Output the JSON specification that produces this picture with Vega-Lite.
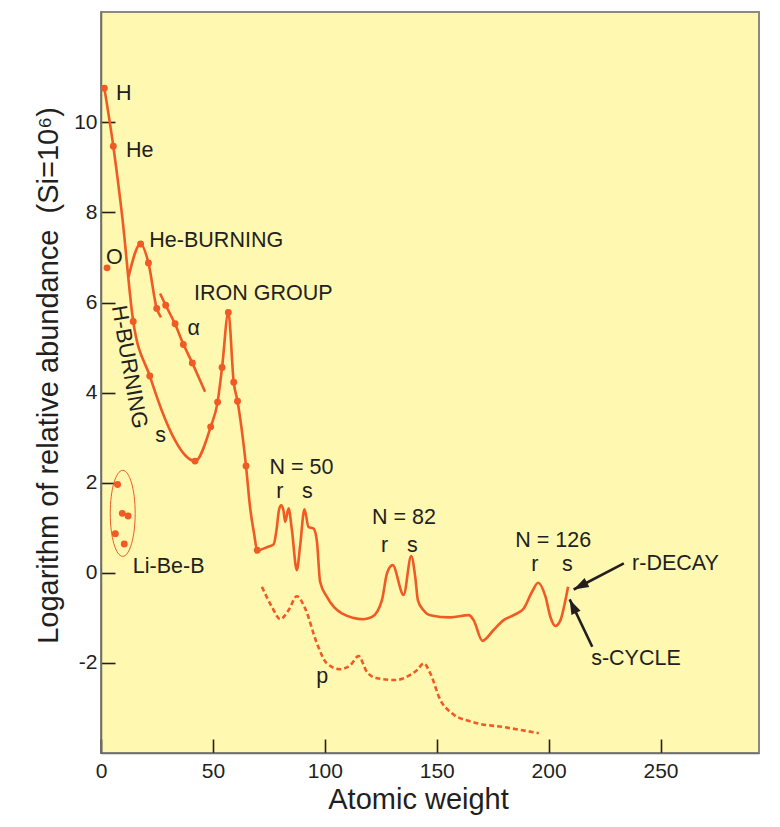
{
  "$schema": "https://vega.github.io/schema/vega-lite/v6.json",
  "width": 658,
  "height": 741,
  "autosize": {"type": "none"},
  "padding": {"left": 101, "top": 12, "right": 21, "bottom": 74},
  "background": "#ffffff",
  "config": {
    "view": {"fill": "#FFF8B0", "stroke": "#8a8a80", "strokeWidth": 2},
    "font": "Liberation Sans",
    "axis": {
      "grid": false,
      "domainColor": "#6e6e6e",
      "domainWidth": 1.5,
      "tickColor": "#231F20",
      "tickWidth": 1.6,
      "tickSize": -14,
      "labelFlush": false,
      "labelFont": "Liberation Sans",
      "labelFontSize": 21,
      "labelColor": "#231F20",
      "labelExpr": "replace(datum.label, '\u2212', '-')",
      "titleFont": "Liberation Sans",
      "titleFontSize": 29,
      "titleFontWeight": "normal",
      "titleColor": "#231F20"
    }
  },
  "datasets": {
    "main": [
      {"x": 1.5, "y": 10.76}, {"x": 5.5, "y": 9.47}, {"x": 9.5, "y": 7.9},
      {"x": 14.4, "y": 5.58}, {"x": 21.8, "y": 4.37}, {"x": 27.1, "y": 3.61}, {"x": 33.1, "y": 2.94},
      {"x": 37.6, "y": 2.61}, {"x": 42.0, "y": 2.48}, {"x": 49.0, "y": 3.24}, {"x": 52.1, "y": 3.79},
      {"x": 54.1, "y": 4.56}, {"x": 56.9, "y": 5.78}, {"x": 59.3, "y": 4.23}, {"x": 61.0, "y": 3.81},
      {"x": 64.8, "y": 2.37}, {"x": 66.6, "y": 1.46}, {"x": 68.4, "y": 0.87}, {"x": 69.8, "y": 0.50},
      {"x": 74.7, "y": 0.58}, {"x": 77.1, "y": 0.63}, {"x": 78.5, "y": 0.98}, {"x": 79.5, "y": 1.39},
      {"x": 80.5, "y": 1.50}, {"x": 81.5, "y": 1.39}, {"x": 82.3, "y": 1.13}, {"x": 83.8, "y": 1.43},
      {"x": 85.3, "y": 0.95}, {"x": 87.5, "y": 0.06}, {"x": 89.0, "y": 0.61}, {"x": 90.9, "y": 1.41},
      {"x": 92.7, "y": 1.02}, {"x": 95.0, "y": 0.98}, {"x": 96.5, "y": 0.69}, {"x": 97.9, "y": -0.20},
      {"x": 100.9, "y": -0.53}, {"x": 107.6, "y": -0.90}, {"x": 117.3, "y": -1.03}, {"x": 121.1, "y": -0.98},
      {"x": 125.5, "y": -0.61}, {"x": 127.8, "y": -0.01}, {"x": 130.3, "y": 0.17}, {"x": 135.2, "y": -0.49},
      {"x": 138.6, "y": 0.37}, {"x": 140.4, "y": -0.09}, {"x": 141.6, "y": -0.61}, {"x": 144.1, "y": -0.83},
      {"x": 147.1, "y": -0.94}, {"x": 156.1, "y": -0.99}, {"x": 164.3, "y": -0.94}, {"x": 166.5, "y": -1.05},
      {"x": 170.4, "y": -1.51}, {"x": 175.4, "y": -1.27}, {"x": 179.9, "y": -1.05}, {"x": 184.4, "y": -0.94},
      {"x": 188.9, "y": -0.79}, {"x": 192.6, "y": -0.42}, {"x": 195.3, "y": -0.22}, {"x": 198.6, "y": -0.53},
      {"x": 200.8, "y": -0.98}, {"x": 203.0, "y": -1.18}, {"x": 205.3, "y": -1.05}, {"x": 207.5, "y": -0.61},
      {"x": 208.7, "y": -0.31}
    ],
    "heburn": [
      {"x": 12.3, "y": 6.57}, {"x": 17.7, "y": 7.30}, {"x": 21.2, "y": 6.88}, {"x": 24.9, "y": 5.87}, {"x": 26.8, "y": 5.67}
    ],
    "alpha": [
      {"x": 26.4, "y": 6.20}, {"x": 28.9, "y": 5.94}, {"x": 33.1, "y": 5.53}, {"x": 36.8, "y": 5.07}, {"x": 40.8, "y": 4.66}, {"x": 46.5, "y": 4.02}
    ],
    "pproc": [
      {"x": 71.9, "y": -0.31}, {"x": 76.3, "y": -0.75}, {"x": 80.1, "y": -1.03}, {"x": 83.8, "y": -0.83},
      {"x": 87.5, "y": -0.52}, {"x": 91.2, "y": -0.79}, {"x": 96.5, "y": -1.57}, {"x": 100.9, "y": -2.01},
      {"x": 106.9, "y": -2.14}, {"x": 111.4, "y": -2.05}, {"x": 115.1, "y": -1.85}, {"x": 118.8, "y": -2.20},
      {"x": 123.3, "y": -2.34}, {"x": 131.5, "y": -2.38}, {"x": 137.4, "y": -2.29}, {"x": 141.2, "y": -2.16},
      {"x": 144.2, "y": -2.01}, {"x": 147.1, "y": -2.23}, {"x": 151.6, "y": -2.82}, {"x": 156.8, "y": -3.12},
      {"x": 165.8, "y": -3.31}, {"x": 180.7, "y": -3.43}, {"x": 195.6, "y": -3.56}
    ],
    "dots": [
      {"x": 1.5, "y": 10.76}, {"x": 5.5, "y": 9.47}, {"x": 2.7, "y": 6.77},
      {"x": 17.7, "y": 7.30}, {"x": 21.2, "y": 6.88}, {"x": 24.9, "y": 5.87},
      {"x": 28.9, "y": 5.94}, {"x": 33.1, "y": 5.53}, {"x": 36.8, "y": 5.07}, {"x": 40.8, "y": 4.66},
      {"x": 14.4, "y": 5.58}, {"x": 21.8, "y": 4.37}, {"x": 42.0, "y": 2.48},
      {"x": 49.0, "y": 3.24}, {"x": 52.1, "y": 3.79}, {"x": 54.1, "y": 4.56}, {"x": 56.9, "y": 5.78},
      {"x": 59.3, "y": 4.23}, {"x": 61.0, "y": 3.81}, {"x": 64.8, "y": 2.37}, {"x": 69.8, "y": 0.50},
      {"x": 7.4, "y": 1.96}, {"x": 9.5, "y": 1.32}, {"x": 12.1, "y": 1.26}, {"x": 6.4, "y": 0.87}, {"x": 10.4, "y": 0.64}
    ],
    "ellipse": [{"x": 9.7, "y": 1.32}],
    "labels": [
      {"x": 6.7, "y": 10.49, "t": "H"},
      {"x": 11.2, "y": 9.24, "t": "He"},
      {"x": 2.2, "y": 6.86, "t": "O"},
      {"x": 21.6, "y": 7.23, "t": "He-BURNING"},
      {"x": 41.6, "y": 6.05, "t": "IRON GROUP"},
      {"x": 38.6, "y": 5.27, "t": "α"},
      {"x": 24.2, "y": 2.91, "t": "s"},
      {"x": 14.2, "y": -0.01, "t": "Li-Be-B"},
      {"x": 75.3, "y": 2.20, "t": "N = 50"},
      {"x": 78.3, "y": 1.66, "t": "r"},
      {"x": 89.8, "y": 1.66, "t": "s"},
      {"x": 121.1, "y": 1.09, "t": "N = 82"},
      {"x": 125.1, "y": 0.46, "t": "r"},
      {"x": 136.7, "y": 0.46, "t": "s"},
      {"x": 185.1, "y": 0.57, "t": "N = 126"},
      {"x": 192.2, "y": 0.03, "t": "r"},
      {"x": 206.0, "y": 0.03, "t": "s"},
      {"x": 237.3, "y": 0.06, "t": "r-DECAY"},
      {"x": 219.0, "y": -2.05, "t": "s-CYCLE"},
      {"x": 96.2, "y": -2.45, "t": "p"}
    ],
    "rotlabel": [{"x": 12.7, "y": 4.57, "t": "H-BURNING"}],
    "arrows": [
      {"name": "r-DECAY", "x": 233.6, "y": 0.21, "x2": 211.2, "y2": -0.37},
      {"name": "s-CYCLE", "x": 219.5, "y": -1.64, "x2": 209.4, "y2": -0.59}
    ]
  },
  "layer": [
    {
      "data": {"name": "main"},
      "mark": {"type": "line", "interpolate": "monotone", "color": "#F05A24", "strokeWidth": 2.6},
      "encoding": {
        "x": {"field": "x", "type": "quantitative", "scale": {"domain": [0, 294], "nice": false, "zero": false},
              "axis": {"values": [0, 50, 100, 150, 200, 250], "title": "Atomic weight", "labelPadding": 21,
                       "titleX": 317, "titleY": 55, "titleBaseline": "alphabetic", "titleAnchor": "start", "titleAlign": "center"}},
        "y": {"field": "y", "type": "quantitative", "scale": {"domain": [-4, 12.45], "nice": false, "zero": false},
              "axis": {"values": [-2, 0, 2, 4, 6, 8, 10], "title": "Logarithm of relative abundance\u00a0\u00a0(Si=10⁶)", "labelPadding": 18,
                       "titleAngle": -90, "titleX": -44, "titleY": 363, "titleBaseline": "alphabetic", "titleAlign": "center", "titleAnchor": "start"}}
      }
    },
    {
      "data": {"name": "heburn"},
      "mark": {"type": "line", "interpolate": "monotone", "color": "#F05A24", "strokeWidth": 2.6},
      "encoding": {"x": {"field": "x", "type": "quantitative"}, "y": {"field": "y", "type": "quantitative"}}
    },
    {
      "data": {"name": "alpha"},
      "mark": {"type": "line", "interpolate": "linear", "color": "#F05A24", "strokeWidth": 2.6},
      "encoding": {"x": {"field": "x", "type": "quantitative"}, "y": {"field": "y", "type": "quantitative"}}
    },
    {
      "data": {"name": "pproc"},
      "mark": {"type": "line", "interpolate": "monotone", "color": "#F05A24", "strokeWidth": 2.6, "strokeDash": [5, 3]},
      "encoding": {"x": {"field": "x", "type": "quantitative"}, "y": {"field": "y", "type": "quantitative"}}
    },
    {
      "data": {"name": "dots"},
      "mark": {"type": "point", "filled": true, "color": "#F05A24", "size": 48, "opacity": 1},
      "encoding": {"x": {"field": "x", "type": "quantitative"}, "y": {"field": "y", "type": "quantitative"}}
    },
    {
      "data": {"name": "ellipse"},
      "mark": {"type": "point", "filled": false, "stroke": "#F05A24", "strokeWidth": 1, "opacity": 1,
               "shape": "M0,-1A0.29,1,0,1,1,0,1A0.29,1,0,1,1,0,-1Z", "size": 7396},
      "encoding": {"x": {"field": "x", "type": "quantitative"}, "y": {"field": "y", "type": "quantitative"}}
    },
    {
      "data": {"name": "labels"},
      "mark": {"type": "text", "align": "left", "baseline": "alphabetic", "fontSize": 21.5, "color": "#231F20", "font": "Liberation Sans"},
      "encoding": {"x": {"field": "x", "type": "quantitative"}, "y": {"field": "y", "type": "quantitative"}, "text": {"field": "t"}}
    },
    {
      "data": {"name": "rotlabel"},
      "mark": {"type": "text", "align": "center", "baseline": "middle", "angle": 80, "fontSize": 22, "color": "#231F20", "font": "Liberation Sans"},
      "encoding": {"x": {"field": "x", "type": "quantitative"}, "y": {"field": "y", "type": "quantitative"}, "text": {"field": "t"}}
    },
    {
      "data": {"name": "arrows"},
      "mark": {"type": "rule", "color": "#231F20", "strokeWidth": 2.6},
      "encoding": {"x": {"field": "x", "type": "quantitative"}, "y": {"field": "y", "type": "quantitative"},
                   "x2": {"field": "x2"}, "y2": {"field": "y2"}}
    },
    {
      "data": {"name": "arrows"},
      "transform": [{"filter": "datum.name === 'r-DECAY'"}],
      "mark": {"type": "point", "filled": true, "color": "#231F20", "opacity": 1, "angle": 242,
               "shape": "M0,0L-0.67,2L0.67,2Z", "size": 225},
      "encoding": {"x": {"field": "x2", "type": "quantitative"}, "y": {"field": "y2", "type": "quantitative"}}
    },
    {
      "data": {"name": "arrows"},
      "transform": [{"filter": "datum.name === 's-CYCLE'"}],
      "mark": {"type": "point", "filled": true, "color": "#231F20", "opacity": 1, "angle": 335,
               "shape": "M0,0L-0.67,2L0.67,2Z", "size": 225},
      "encoding": {"x": {"field": "x2", "type": "quantitative"}, "y": {"field": "y2", "type": "quantitative"}}
    }
  ]
}
